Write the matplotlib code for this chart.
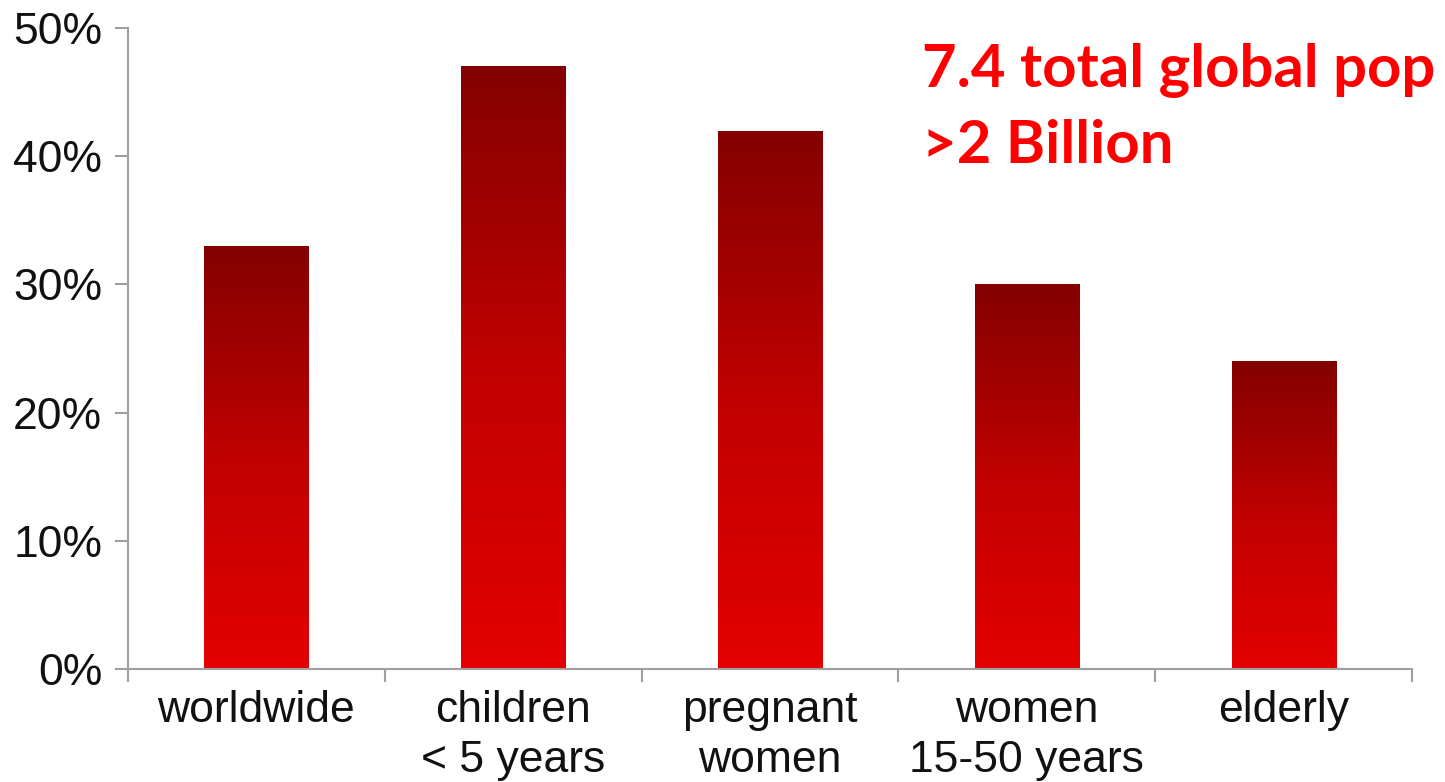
import numpy as np
import matplotlib
matplotlib.use("Agg")
import matplotlib.pyplot as plt
from matplotlib.colors import LinearSegmentedColormap

categories = ["worldwide", "children\n< 5 years", "pregnant\nwomen", "women\n15-50 years", "elderly"]
values = [33, 47, 42, 30, 24]
y_ticks = [0, 10, 20, 30, 40, 50]
y_tick_labels = ["0%", "10%", "20%", "30%", "40%", "50%"]
note_lines = ["7.4 total global pop", ">2 Billion"]

fig = plt.figure(figsize=(14.45, 7.82), dpi=100)
ax = fig.add_axes([128 / 1445, 1 - 669 / 782, (1412 - 128) / 1445, (669 - 28) / 782])

x = np.arange(len(categories))
bars = ax.bar(x, values, width=0.405, color="none", edgecolor="none")

# vertical red gradient inside each bar: dark at the top, bright at the base
cmap = LinearSegmentedColormap.from_list("bar_red", ["#e40000", "#c00000", "#840000"])
grad = np.linspace(0, 1, 256).reshape(-1, 1)
for b in bars:
    x0, y0 = b.get_x(), b.get_y()
    w, h = b.get_width(), b.get_height()
    im = ax.imshow(grad, cmap=cmap, origin="lower", aspect="auto",
                   extent=(x0, x0 + w, y0, y0 + h), zorder=2, interpolation="bicubic")
    im.set_clip_path(b)

ax.set_xlim(-0.5, len(categories) - 0.5)
ax.set_ylim(0, 50)

axis_grey = "#a0a0a0"
for side in ("top", "right"):
    ax.spines[side].set_visible(False)
for side in ("left", "bottom"):
    ax.spines[side].set_color(axis_grey)
    ax.spines[side].set_linewidth(1.5)

ax.set_yticks(y_ticks)
ax.set_yticklabels(y_tick_labels, fontsize=32, family="Liberation Sans", color="#111111")
ax.tick_params(axis="y", length=9.5, width=1.5, color=axis_grey, pad=9)

# boundary ticks between categories, labels at centres
ax.set_xticks(np.arange(-0.5, len(categories)))
ax.set_xticklabels([])
ax.set_xticks(x, minor=True)
ax.set_xticklabels(categories, minor=True, fontsize=32, family="Liberation Sans",
                   color="#111111", linespacing=1.28, va="top")
ax.tick_params(axis="x", which="major", length=9.5, width=1.5, color=axis_grey)
ax.tick_params(axis="x", which="minor", length=0, pad=15)

ax.set_facecolor("white")

fig.text(922 / 1445, 1 - 87 / 782, note_lines[0], fontsize=43, fontweight="bold",
         family="Lato", color="#ff0000", ha="left", va="baseline")
fig.text(922 / 1445, 1 - 163 / 782, note_lines[1], fontsize=43, fontweight="bold",
         family="Lato", color="#ff0000", ha="left", va="baseline")

fig.savefig("out.png", dpi=100, facecolor="white")
